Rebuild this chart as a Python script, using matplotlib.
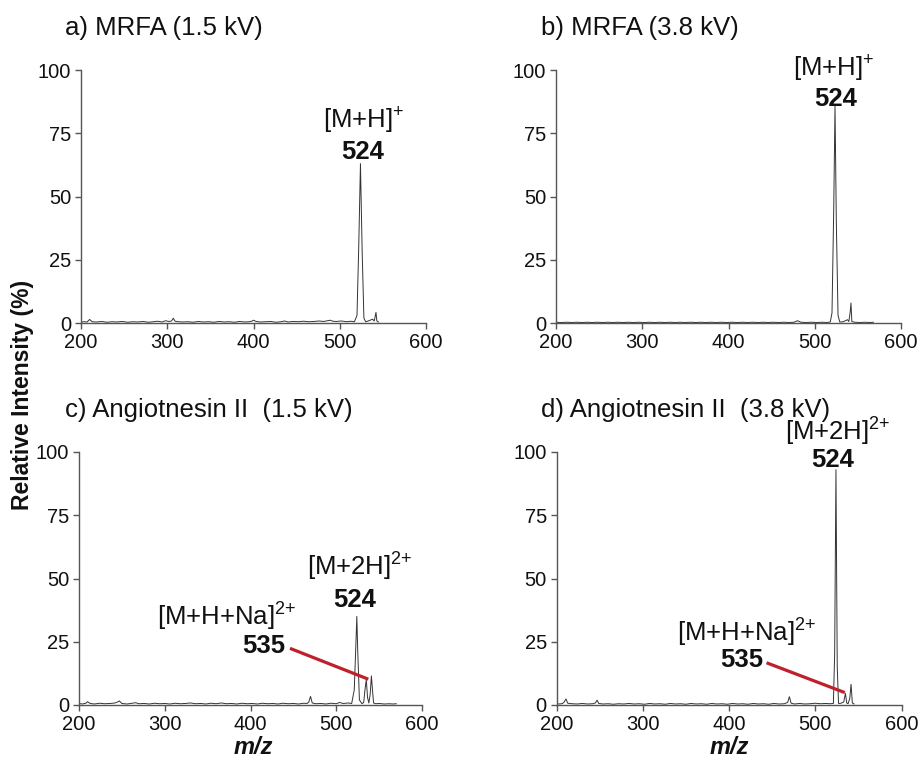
import matplotlib
matplotlib.use("Agg")
import matplotlib.pyplot as plt

plt.rcParams['font.family'] = ['Liberation Sans', 'DejaVu Sans']
plt.rcParams['mathtext.fontset'] = 'custom'
plt.rcParams['mathtext.rm'] = 'Liberation Sans'
plt.rcParams['mathtext.bf'] = 'Liberation Sans:bold'
plt.rcParams['mathtext.it'] = 'Liberation Sans:italic'

# ---------------- data (m/z, relative intensity %) ----------------
spec_a = [(200,0.4),(204,0.5),(207,0.4),(210,1.4),(213,0.5),(218,0.4),(224,0.6),(230,0.3),(236,0.5),(242,0.4),
          (248,0.6),(254,0.3),(260,0.5),(266,0.4),(272,0.6),(278,0.3),(284,0.5),(289,0.7),(294,0.4),(298,0.9),
          (302,0.6),(305,0.8),(307,1.9),(309,0.7),(313,0.5),(318,0.4),(324,0.5),(330,0.3),(336,0.6),(342,0.4),
          (348,0.5),(354,0.3),(360,0.6),(366,0.4),(372,0.5),(378,0.3),(384,0.6),(390,0.4),(395,0.5),(398,0.7),
          (400,1.1),(403,0.6),(408,0.4),(414,0.5),(420,0.6),(426,0.3),(432,0.5),(436,0.8),(440,0.4),(446,0.6),
          (452,0.5),(458,0.7),(464,0.5),(470,0.6),(476,0.8),(481,0.6),(486,0.9),(489,1.1),(492,0.7),(496,0.6),
          (502,0.8),(508,0.5),(513,0.7),(517,0.5),(520,3),(522,30),(524,63),(526,28),(528,2),(530,0.5),
          (533,0.8),(536,1.2),(538,1.5),(540,0.8),(541,2.5),(542,4.2),(543,0.8),(545,0.4)]

spec_b = [(200,0.3),(206,0.2),(212,0.3),(218,0.2),(224,0.3),(230,0.2),(236,0.3),(242,0.2),(248,0.3),(254,0.2),
          (260,0.3),(266,0.2),(272,0.3),(278,0.2),(284,0.3),(290,0.2),(296,0.3),(302,0.2),(308,0.3),(314,0.2),
          (320,0.3),(326,0.2),(332,0.3),(338,0.2),(344,0.3),(350,0.2),(356,0.3),(362,0.2),(368,0.3),(374,0.2),
          (380,0.3),(386,0.2),(392,0.3),(398,0.2),(404,0.3),(410,0.2),(416,0.3),(422,0.2),(428,0.3),(434,0.2),
          (440,0.3),(446,0.2),(452,0.3),(458,0.2),(464,0.3),(470,0.2),(476,0.3),(480,0.9),(484,0.3),(490,0.2),
          (496,0.3),(502,0.2),(508,0.3),(514,0.2),(518,0.4),(520,4),(522,45),(523.5,86),(525,40),(527,3),
          (529,0.4),(533,0.5),(536,1.0),(538,1.3),(539.5,0.6),(541,4),(542,7.9),(543,0.6),(546,0.3),(552,0.2),
          (558,0.3),(564,0.2),(568,0.3)]

spec_c = [(200,0.6),(204,0.4),(208,0.7),(210,1.3),(213,0.6),(218,0.4),(224,0.7),(230,0.5),(236,0.6),(242,0.8),
          (245,1.2),(247,1.6),(250,0.6),(256,0.4),(262,0.7),(266,0.9),(270,0.5),(276,0.6),(282,0.4),(288,0.7),
          (294,0.5),(300,0.6),(306,0.4),(312,0.7),(318,0.5),(324,0.6),(330,0.8),(336,0.5),(342,0.6),(348,0.4),
          (354,0.7),(360,0.5),(366,0.8),(372,0.5),(378,0.6),(384,0.4),(390,0.7),(396,0.5),(402,0.6),(408,0.4),
          (414,0.7),(420,0.5),(426,0.6),(432,0.4),(438,0.7),(444,0.5),(450,0.6),(456,0.4),(462,0.7),(466,0.6),
          (468,1.2),(470,3.4),(472,0.8),(476,0.5),(482,0.6),(488,0.4),(494,0.7),(500,0.5),(504,1.0),(508,0.6),
          (514,0.8),(518,0.6),(521,6),(523,25),(524,35),(525,22),(527,2),(530,0.5),(532,1.0),(533.5,6),
          (535,10),(536.5,3),(538,0.8),(539.5,4),(541,11.5),(542,7),(543.5,0.8),(546,0.5),(550,0.6),(556,0.4),
          (562,0.5),(566,0.4),(570,0.5)]

spec_d = [(200,0.5),(204,0.4),(207,0.6),(209,1.2),(211,2.4),(213,0.7),(218,0.5),(224,0.4),(230,0.6),(236,0.4),
          (242,0.5),(245,0.8),(247,1.9),(249,0.6),(254,0.4),(260,0.5),(266,0.3),(272,0.5),(278,0.4),(284,0.6),
          (290,0.4),(296,0.5),(302,0.3),(308,0.6),(314,0.4),(320,0.5),(326,0.3),(332,0.6),(338,0.4),(344,0.5),
          (350,0.3),(356,0.6),(362,0.4),(368,0.5),(374,0.3),(380,0.6),(386,0.4),(392,0.5),(398,0.3),(404,0.6),
          (410,0.4),(416,0.5),(422,0.3),(428,0.6),(434,0.4),(440,0.5),(446,0.3),(452,0.6),(458,0.4),(464,0.5),
          (468,1.0),(470,3.3),(472,0.7),(476,0.4),(482,0.6),(488,0.4),(494,0.5),(500,0.7),(506,0.5),(512,0.6),
          (517,0.5),(521,0.6),(522.5,20),(524,93),(525.5,15),(527,0.6),(530,0.7),(533,1.2),(535,4.6),(536.5,0.8),
          (538,0.5),(540,2.5),(541.5,8.2),(543,0.8),(545,0.4)]

titles = ["a) MRFA (1.5 kV)", "b) MRFA (3.8 kV)", "c) Angiotnesin II  (1.5 kV)", "d) Angiotnesin II  (3.8 kV)"]
x_ticks = [200, 300, 400, 500, 600]
y_ticks = [0, 25, 50, 75, 100]

# annotations: (text, x, y, ha, bold)
ann_a = [("[M+H]$^{{+}}$", 480, 80, 'left', False), ("524", 527, 67.5, 'center', True)]
ann_b = [("[M+H]$^{{+}}$", 475, 100.5, 'left', False), ("524", 524, 88.5, 'center', True)]
ann_c = [("[M+2H]$^{2{+}}$", 465.5, 54.5, 'left', False), ("524", 522, 41.5, 'center', True),
         ("[M+H+Na]$^{2{+}}$", 290.5, 35, 'left', False), ("535", 415.5, 23.3, 'center', True)]
ann_d = [("[M+2H]$^{2{+}}$", 464.7, 108, 'left', False), ("524", 520, 97, 'center', True),
         ("[M+H+Na]$^{2{+}}$", 339.5, 28.5, 'left', False), ("535", 415, 17.8, 'center', True)]
# red leader lines: ((x0, y0), (x1, y1))
lead_c = ((446, 22.4), (537.4, 10.2))
lead_d = ((443.5, 16.7), (534.3, 4.9))

# ---------------- figure ----------------
W, H = 921, 765
fig = plt.figure(figsize=(W / 100, H / 100), dpi=100)

def rect(l, r, top, bot):
    return [l / W, 1 - bot / H, (r - l) / W, (bot - top) / H]

axes_rects = [rect(81, 426, 70, 323), rect(556, 901, 70, 323),
              rect(79, 422, 452, 705), rect(556.5, 901.5, 452, 705)]
specs = [spec_a, spec_b, spec_c, spec_d]
anns = [ann_a, ann_b, ann_c, ann_d]
leads = [None, None, lead_c, lead_d]
title_pos = [(65, 28), (541, 28), (65, 410), (541, 410)]

for i in range(4):
    ax = fig.add_axes(axes_rects[i])
    mz = [p[0] for p in specs[i]]
    it = [p[1] for p in specs[i]]
    ax.plot(mz, it, color='#333333', lw=0.7)
    ax.set_xlim(200, 600)
    ax.set_ylim(0, 100)
    ax.set_xticks(x_ticks)
    ax.set_yticks(y_ticks)
    for s in ['top', 'right']:
        ax.spines[s].set_visible(False)
    for s in ['left', 'bottom']:
        ax.spines[s].set_color('#555555')
        ax.spines[s].set_linewidth(1.0)
    ax.tick_params(direction='out', length=4, width=1.0, color='#555555',
                   labelsize=14.5, pad=3, labelcolor='#111111')
    for (t, x, y, ha, b) in anns[i]:
        ax.text(x, y, t, ha=ha, va='center', fontsize=18.5,
                fontweight='bold' if b else 'normal', color='#111111', clip_on=False)
    if leads[i] is not None:
        (x0, y0), (x1, y1) = leads[i]
        ax.plot([x0, x1], [y0, y1], color='#c0202a', lw=2.3, solid_capstyle='butt', clip_on=False)
    tx, ty = title_pos[i]
    fig.text(tx / W, 1 - ty / H, titles[i], ha='left', va='center', fontsize=18.5, color='#111111')

fig.text(22 / W, 1 - 395 / H, "Relative Intensity (%)", rotation=90, ha='center', va='center',
         fontsize=16.5, fontweight='bold', color='#111111')
for xc in (253, 729):
    fig.text(xc / W, 1 - 747 / H, "m/z", ha='center', va='center', fontsize=17,
             fontweight='bold', fontstyle='italic', color='#111111')

fig.savefig("out.png", dpi=100)
